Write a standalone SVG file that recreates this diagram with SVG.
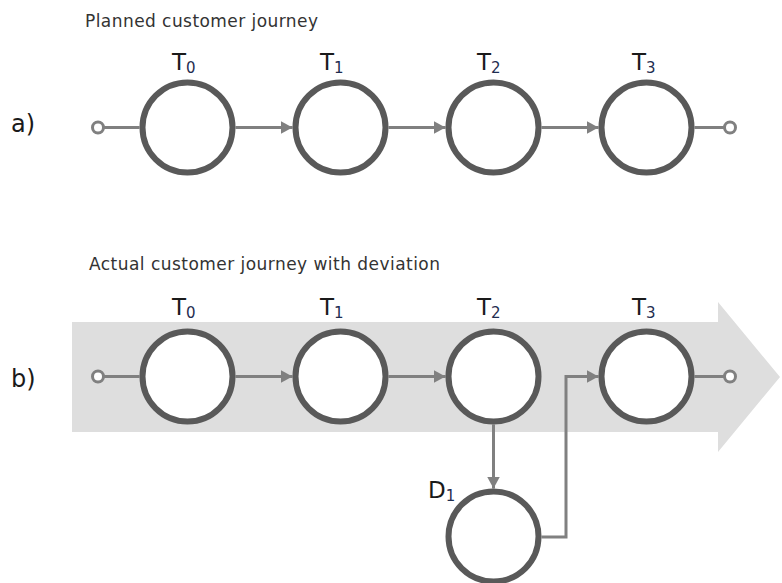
<svg xmlns="http://www.w3.org/2000/svg" width="782" height="583" viewBox="0 0 782 583">
<defs>
<style>
.node{fill:#ffffff;stroke:#595959;stroke-width:6}
.conn{fill:none;stroke:#808080;stroke-width:3}
.term{fill:#ffffff;stroke:#808080;stroke-width:3}
.lbl{font-family:"DejaVu Sans",Verdana,sans-serif;font-size:23px;fill:#1a1a1a}
.sub{font-size:15px;fill:#1f2d50}
.title{font-family:"DejaVu Sans",Verdana,sans-serif;font-size:17px;fill:#333333}
.part{font-family:"DejaVu Sans",Verdana,sans-serif;font-size:24px;fill:#1a1a1a}
</style>
<marker id="arr" markerUnits="userSpaceOnUse" markerWidth="13" markerHeight="13" refX="12" refY="6.5" orient="auto">
<path d="M0,0 L12,6.5 L0,13 Z" fill="#808080"/>
</marker>
</defs>
<rect width="782" height="583" fill="#ffffff"/>

<g id="band">
<polygon points="72,322 718,322 718,302 780,377 718,452 718,432 72,432" fill="#dedede"/>
</g>

<g id="titles">
<text class="title" x="85" y="27" textLength="233" lengthAdjust="spacing">Planned customer journey</text>
<text class="title" x="89" y="270" textLength="351" lengthAdjust="spacing">Actual customer journey with deviation</text>
<text class="part" x="11" y="132">a)</text>
<text class="part" x="11" y="387">b)</text>
</g>

<g id="connectors">
<line class="conn" x1="103.5" y1="127.5" x2="139.5" y2="127.5"/>
<path class="conn" d="M235.5,127.5 H292.5" marker-end="url(#arr)"/>
<path class="conn" d="M388.5,127.5 H445.5" marker-end="url(#arr)"/>
<path class="conn" d="M541.5,127.5 H598.5" marker-end="url(#arr)"/>
<line class="conn" x1="694.5" y1="127.5" x2="724.5" y2="127.5"/>
<circle class="term" cx="98" cy="127.5" r="5.5"/>
<circle class="term" cx="730" cy="127.5" r="5.5"/>

<line class="conn" x1="103.5" y1="376.5" x2="139.5" y2="376.5"/>
<path class="conn" d="M235.5,376.5 H292.5" marker-end="url(#arr)"/>
<path class="conn" d="M388.5,376.5 H445.5" marker-end="url(#arr)"/>
<path class="conn" d="M493.5,424.5 V488.5" marker-end="url(#arr)"/>
<path class="conn" d="M541.5,537 H566 V376.5 H598.5" marker-end="url(#arr)"/>
<line class="conn" x1="694.5" y1="376.5" x2="724.5" y2="376.5"/>
<circle class="term" cx="98" cy="376.5" r="5.5"/>
<circle class="term" cx="730" cy="376.5" r="5.5"/>
</g>

<g id="a-T0"><circle class="node" cx="187.5" cy="127.5" r="45"/><text class="lbl" x="172" y="70">T<tspan class="sub" dy="3">0</tspan></text></g>
<g id="a-T1"><circle class="node" cx="340.5" cy="127.5" r="45"/><text class="lbl" x="320" y="70">T<tspan class="sub" dy="3">1</tspan></text></g>
<g id="a-T2"><circle class="node" cx="493.5" cy="127.5" r="45"/><text class="lbl" x="477" y="70">T<tspan class="sub" dy="3">2</tspan></text></g>
<g id="a-T3"><circle class="node" cx="646.5" cy="127.5" r="45"/><text class="lbl" x="632" y="70">T<tspan class="sub" dy="3">3</tspan></text></g>

<g id="b-T0"><circle class="node" cx="187.5" cy="376.5" r="45"/><text class="lbl" x="172" y="315">T<tspan class="sub" dy="3">0</tspan></text></g>
<g id="b-T1"><circle class="node" cx="340.5" cy="376.5" r="45"/><text class="lbl" x="320" y="315">T<tspan class="sub" dy="3">1</tspan></text></g>
<g id="b-T2"><circle class="node" cx="493.5" cy="376.5" r="45"/><text class="lbl" x="477" y="315">T<tspan class="sub" dy="3">2</tspan></text></g>
<g id="b-T3"><circle class="node" cx="646.5" cy="376.5" r="45"/><text class="lbl" x="632" y="315">T<tspan class="sub" dy="3">3</tspan></text></g>
<g id="b-D1"><circle class="node" cx="493.5" cy="536.5" r="45"/><text class="lbl" x="428" y="498">D<tspan class="sub" dy="3">1</tspan></text></g>
</svg>
